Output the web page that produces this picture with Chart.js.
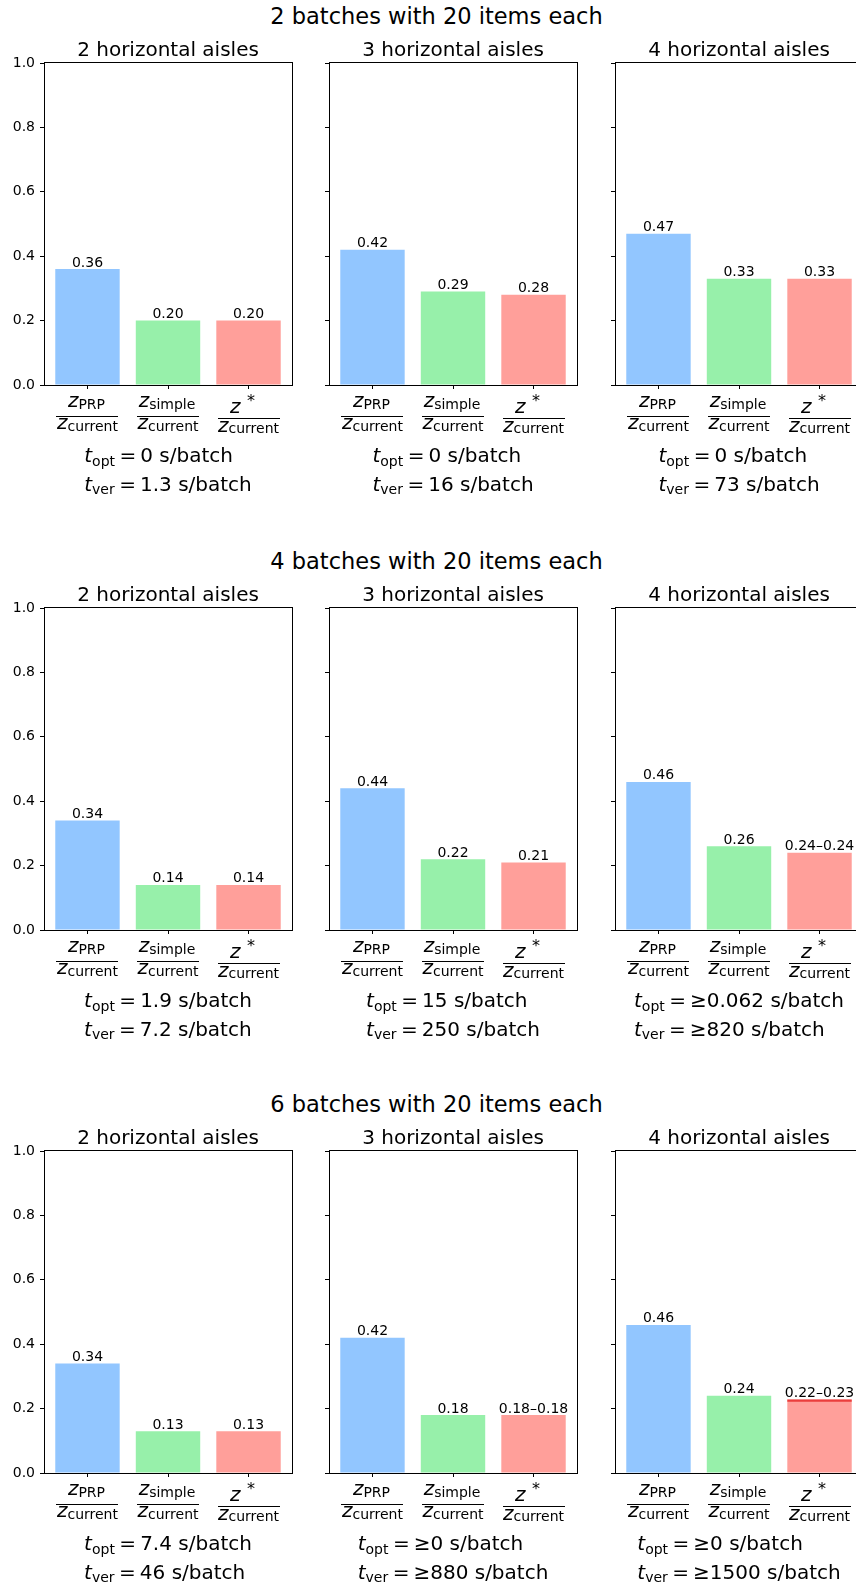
<!DOCTYPE html>
<html>
<head>
<meta charset="utf-8">
<script src="https://cdn.jsdelivr.net/npm/chart.js@4.4.1/dist/chart.umd.min.js"></script>
<style>
  html, body { margin: 0; padding: 0; background: #fff; overflow: hidden; }
  #page { position: relative; width: 856px; height: 1584px; overflow: hidden; background: #fff; }
  #page canvas { position: absolute; }
  .suptitle {
    position: absolute; left: 0; width: 873px; text-align: center;
    font-family: "DejaVu Sans"; font-size: 22.5px; line-height: 22.5px;
    color: #000; white-space: nowrap;
  }
</style>
</head>
<body>
<div id="page"></div>
<script>
// === Data ===
const rowTitles = ['2 batches with 20 items each', '4 batches with 20 items each', '6 batches with 20 items each'];
const colTitles = ['2 horizontal aisles', '3 horizontal aisles', '4 horizontal aisles'];
const categories = ['PRP', 'simple', '*'];

// rows = batches, cols = aisles
const zPrp = [[0.36, 0.42, 0.47], [0.34, 0.44, 0.46], [0.34, 0.42, 0.46]];
const zSimple = [[0.20, 0.29, 0.33], [0.14, 0.22, 0.26], [0.13, 0.18, 0.24]];
// z* bounds (lower / upper), equal when solved to optimality
const zStarLow = [[0.20, 0.28, 0.33], [0.14, 0.21, 0.2399], [0.13, 0.1799, 0.221]];
const zStarHigh = [[0.20, 0.28, 0.33], [0.14, 0.21, 0.2401], [0.13, 0.1801, 0.228]];

const tOpt = [['0', '0', '0'], ['1.9', '15', '≥0.062'], ['7.4', '≥0', '≥0']];
const tVer = [['1.3', '16', '73'], ['7.2', '250', '≥820'], ['46', '≥880', '≥1500']];

const yTicks = [0, 0.2, 0.4, 0.6, 0.8, 1.0];

// === Layout ===
const rowTops = [63, 608, 1151];
const colLefts = [44, 329, 615];
const plotW = 248, plotH = 322;
const axisW = 44, padTop = 45, padRight = 24, axisH = 120;

const FONT = '"DejaVu Sans"';
const F_MAIN = '20px ' + FONT;
const F_IT = 'italic 20px ' + FONT;
const F_SUB = '14px ' + FONT;
const barColors = ['#92C6FF', '#97F0AA', '#FF9F9A'];
const bandColor = 'rgba(232, 45, 45, 0.85)';

Chart.defaults.font.family = 'DejaVu Sans';
Chart.defaults.color = '#000';

function fmt(v) { return v.toFixed(2); }

function measureRun(ctx, parts) {
  let total = 0;
  parts.forEach(p => {
    ctx.font = p.font;
    p.w = ctx.measureText(p.text).width + (p.gap || 0);
    total += p.w;
  });
  return total;
}

// draw a row of text pieces starting at x
function drawRunAt(ctx, parts, x, baseline) {
  measureRun(ctx, parts);
  ctx.textAlign = 'left';
  ctx.textBaseline = 'alphabetic';
  parts.forEach(p => {
    ctx.font = p.font;
    ctx.fillText(p.text, x, baseline + (p.dy || 0));
    x += p.w;
  });
}

// draw a row of text pieces centred on cx
function drawRun(ctx, parts, cx, baseline) {
  const total = measureRun(ctx, parts);
  drawRunAt(ctx, parts, cx - total / 2, baseline);
  return total;
}

function drawFrac(ctx, name, cx, bottom) {
  const star = name === '*';
  let num;
  if (star) {
    num = [{ text: 'z', font: F_IT, gap: 6.5 }, { text: '*', font: '16px ' + FONT, dy: -7, gap: 12 }];
  } else {
    num = [{ text: 'z', font: F_IT }, { text: name, font: F_SUB, dy: 1.5, gap: 2 }];
  }
  drawRun(ctx, num, cx, bottom + (star ? 27.5 : 22));
  const dw = drawRun(ctx, [{ text: 'z', font: F_IT }, { text: 'current', font: F_SUB, dy: 1.5 }],
    cx, bottom + (star ? 46.5 : 44));
  const w = Math.round(dw + 1);
  ctx.fillRect(Math.round(cx - w / 2), Math.round(bottom + (star ? 33 : 30.5)), w, 1);
}

function timeParts(sub, val) {
  return [
    { text: 't', font: F_IT },
    { text: sub, font: F_SUB, dy: 3.5, gap: 4.5 },
    { text: '=', font: F_MAIN, gap: 4 },
    { text: val + ' s/batch', font: F_MAIN }
  ];
}

const panelPlugin = {
  id: 'panel',
  afterDraw(chart, args, opts) {
    const { ctx, chartArea: a, scales } = chart;
    const r = opts.r, c = opts.c;
    const xs = scales.x, ys = scales.y;
    const cx = (a.left + a.right) / 2;
    ctx.save();
    ctx.fillStyle = '#000';
    ctx.strokeStyle = '#000';
    ctx.lineWidth = 1;

    // axes box
    ctx.strokeRect(a.left + 0.5, a.top - 0.5, a.right - a.left, a.bottom - a.top + 1);

    // subplot title
    ctx.font = F_MAIN;
    ctx.textAlign = 'center';
    ctx.textBaseline = 'alphabetic';
    ctx.fillText(colTitles[c], cx, a.top - 7.5);

    // value labels on bars
    ctx.font = '14px ' + FONT;
    const vals = [zPrp[r][c], zSimple[r][c], zStarHigh[r][c]];
    vals.forEach((v, i) => {
      let txt = fmt(v);
      if (i === 2 && zStarLow[r][c] !== zStarHigh[r][c]) {
        txt = fmt(zStarLow[r][c]) + '–' + fmt(zStarHigh[r][c]);
      }
      ctx.fillText(txt, xs.getPixelForValue(i), ys.getPixelForValue(v) - 2.5);
    });

    // category labels as fractions
    categories.forEach((name, i) => {
      drawFrac(ctx, name, xs.getPixelForValue(i), a.bottom);
    });

    // timings: two left-aligned lines, block centred under the axes
    const l1 = timeParts('opt', tOpt[r][c]);
    const l2 = timeParts('ver', tVer[r][c]);
    const bw = Math.max(measureRun(ctx, l1), measureRun(ctx, l2));
    const bx = cx - bw / 2;
    drawRunAt(ctx, l1, bx, a.bottom + 77);
    drawRunAt(ctx, l2, bx, a.bottom + 105.5);

    ctx.restore();
  }
};

// === Build grid ===
const page = document.getElementById('page');

rowTitles.forEach((title, r) => {
  const st = document.createElement('div');
  st.className = 'suptitle';
  st.textContent = title;
  st.style.top = (rowTops[r] - 39.5 - 19) + 'px';
  page.appendChild(st);

  colTitles.forEach((_, c) => {
    const cv = document.createElement('canvas');
    const w = axisW + plotW + padRight, h = padTop + plotH + axisH;
    cv.width = w; cv.height = h;
    cv.style.width = w + 'px'; cv.style.height = h + 'px';
    cv.style.left = (colLefts[c] - axisW) + 'px';
    cv.style.top = (rowTops[r] - padTop) + 'px';
    page.appendChild(cv);

    new Chart(cv, {
      type: 'bar',
      data: {
        datasets: [{
          data: [
            { x: 0, y: zPrp[r][c] },
            { x: 1, y: zSimple[r][c] },
            { x: 2, y: zStarHigh[r][c] }
          ],
          backgroundColor: barColors,
          borderWidth: 0,
          order: 2
        }, {
          // gap between bounds of z*
          data: [{ x: 2, y: [zStarLow[r][c], zStarHigh[r][c]] }],
          backgroundColor: bandColor,
          borderWidth: 0,
          order: 1
        }]
      },
      options: {
        responsive: false,
        animation: false,
        devicePixelRatio: 1,
        layout: { padding: { top: padTop, left: 0, right: padRight, bottom: 0 } },
        datasets: { bar: { grouped: false, barPercentage: 0.8, categoryPercentage: 1 } },
        plugins: {
          legend: { display: false },
          tooltip: { enabled: false },
          panel: { r: r, c: c }
        },
        scales: {
          x: {
            type: 'linear',
            min: -0.54, max: 2.54,
            offset: false,
            afterBuildTicks: ax => { ax.ticks = categories.map((_, i) => ({ value: i })); },
            afterFit: s => { s.height = axisH; },
            ticks: { display: false },
            grid: { offset: false, drawOnChartArea: false, tickLength: 4, color: '#000', lineWidth: 1 },
            border: { display: false }
          },
          y: {
            min: 0, max: 1,
            afterBuildTicks: ax => { ax.ticks = yTicks.map(v => ({ value: v })); },
            afterFit: s => { s.width = axisW; },
            ticks: {
              display: c === 0,
              padding: 5,
              color: '#000',
              font: { size: 14, family: 'DejaVu Sans' },
              callback: v => v.toFixed(1)
            },
            grid: { offset: false, drawOnChartArea: false, tickLength: 4, color: '#000', lineWidth: 1 },
            border: { display: false }
          }
        }
      },
      plugins: [panelPlugin]
    });
  });
});
</script>
</body>
</html>
